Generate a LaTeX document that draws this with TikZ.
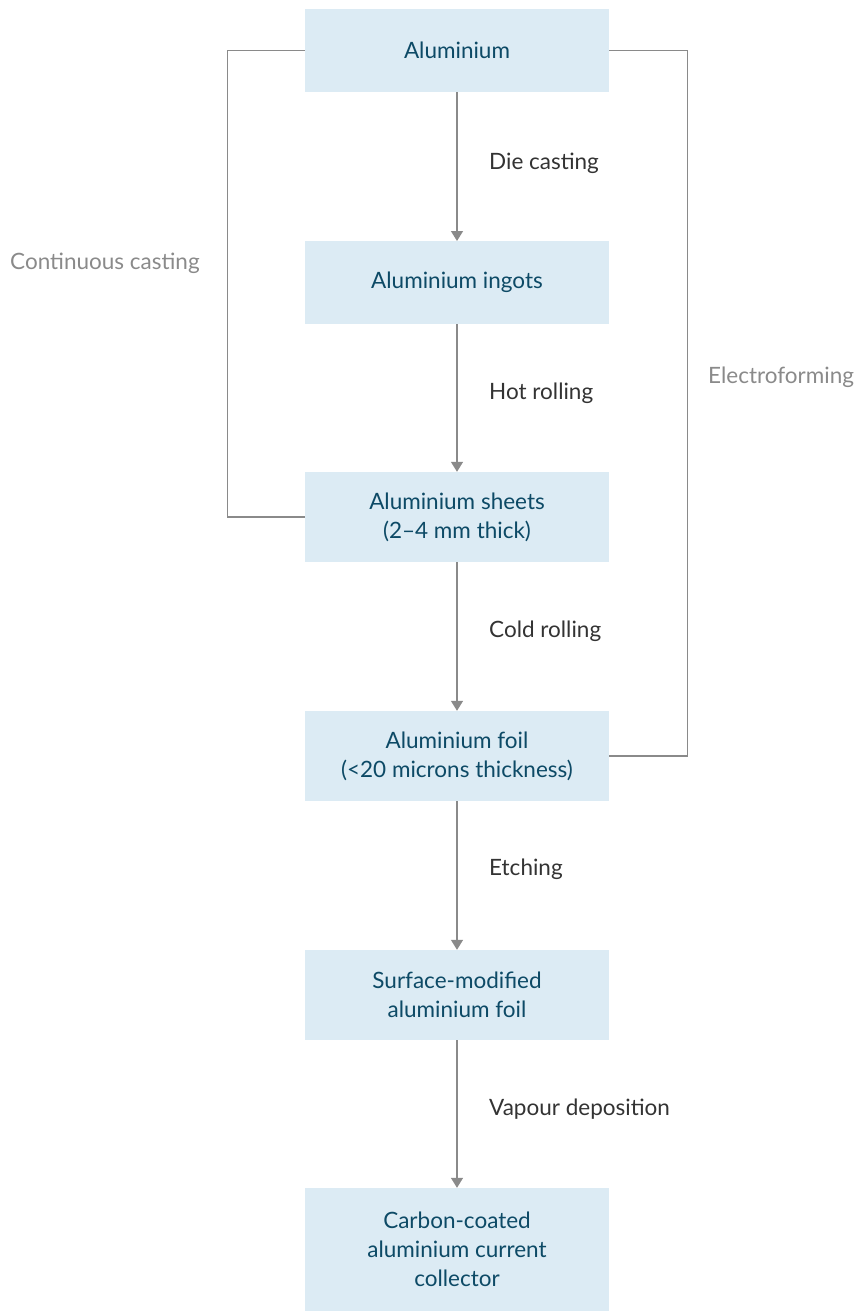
\documentclass[tikz,border=0pt]{standalone}
\usepackage{fontspec}
\setmainfont{Lato}
\usetikzlibrary{arrows.meta}

\definecolor{boxfill}{HTML}{DCEBF4}
\definecolor{boxtext}{HTML}{0D4A66}
\definecolor{linegray}{HTML}{8A8A8A}
\definecolor{steptext}{HTML}{333333}

\tikzset{
    stage/.style={fill=boxfill, text=boxtext, minimum width=304pt, inner sep=0pt,
        align=center, font=\fontsize{22.5}{29}\selectfont},
    flow/.style={draw=linegray, line width=1.4pt, -{Triangle[width=12pt,length=10pt]}},
    route/.style={draw=linegray, line width=1.4pt},
    steplabel/.style={anchor=west, inner sep=0pt, text=steptext, font=\fontsize{22.5}{29}\selectfont},
    routelabel/.style={anchor=west, inner sep=0pt, text=linegray, font=\fontsize{22.5}{29}\selectfont}
}

\begin{document}
\begin{tikzpicture}[x=1pt, y=1pt]
        \useasboundingbox (0,0) rectangle (860,-1311);
        \node [stage, minimum height=83pt] (alu) at (457,-50.5) {Aluminium};
        \node [stage, minimum height=83pt] (ingots) at (457,-282.7) {Aluminium ingots};
        \node [stage, minimum height=90pt] (sheets) at (457,-517) {Aluminium sheets\\(2--4 mm thick)};
        \node [stage, minimum height=90pt] (foil) at (457,-756) {Aluminium foil\\(<20 microns thickness)};
        \node [stage, minimum height=90pt] (modified) at (457,-995) {Surface-modified\\aluminium foil};
        \node [stage, minimum height=123pt] (collector) at (457,-1249.5) {Carbon-coated\\aluminium current\\collector};
        \draw[flow] (alu) -- (ingots);
        \draw[flow] (ingots) -- (sheets);
        \draw[flow] (sheets) -- (foil);
        \draw[flow] (foil) -- (modified);
        \draw[flow] (modified) -- (collector);
        \node [steplabel] (die) at (489,-163) {Die casting};
        \node [steplabel] (hot) at (489,-393) {Hot rolling};
        \node [steplabel] (cold) at (489,-631) {Cold rolling};
        \node [steplabel] (etch) at (489,-869) {Etching};
        \node [steplabel] (vapour) at (489,-1109) {Vapour deposition};
        % side routes
        \coordinate (leftbend) at (227.5,-517);
        \coordinate (rightbend) at (687.7,-756);
        \draw[route] (alu.west) -| (leftbend) -- (sheets.west);
        \draw[route] (alu.east) -| (rightbend) -- (foil.east);
        \node [routelabel] (continuous) at (10,-263) {Continuous casting};
        \node [routelabel] (electro) at (708,-377) {Electroforming};
    \end{tikzpicture}
\end{document}
